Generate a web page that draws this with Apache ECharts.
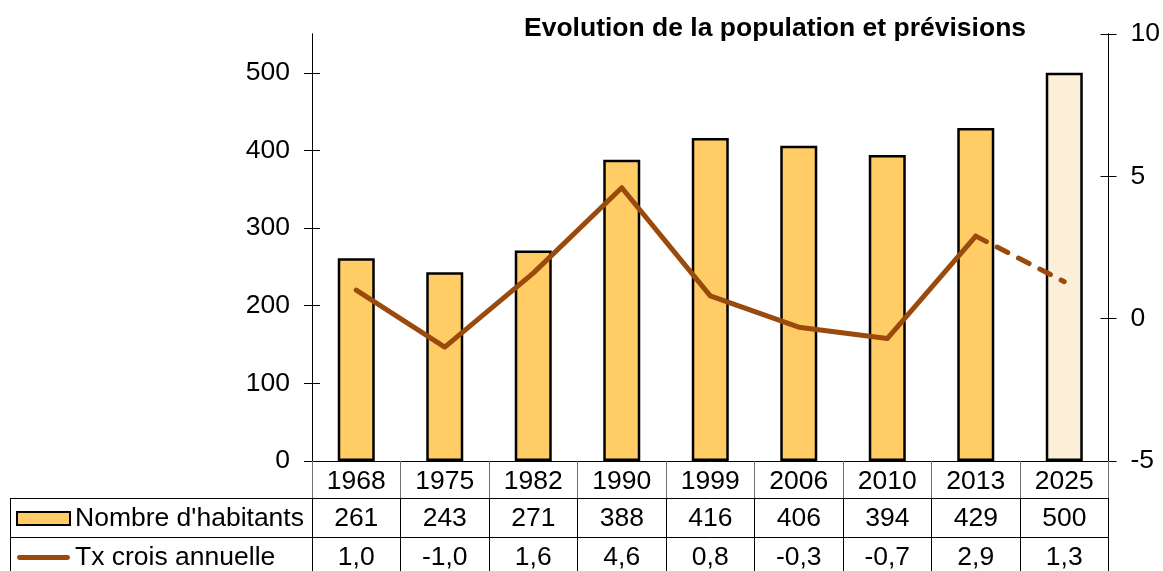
<!DOCTYPE html>
<html><head><meta charset="utf-8">
<script src="https://cdn.jsdelivr.net/npm/echarts@6/dist/echarts.min.js"></script>
<style>html,body{margin:0;padding:0;background:#fff}#c{width:1163px;height:571px}</style>
</head><body><div id="c"></div>
<script>
const years = ['1968','1975','1982','1990','1999','2006','2010','2013','2025'];
const habitants = [261,243,271,388,416,406,394,429,500];
const taux = [1.0,-1.0,1.6,4.6,0.8,-0.3,-0.7,2.9,1.3];
const leftTicks = [0,100,200,300,400,500];
const rightTicks = [-5,0,5,10];
const chartTitle = 'Evolution de la population et prévisions';
const seriesNames = ["Nombre d'habitants", 'Tx crois annuelle'];
const forecastIndex = 8;

const FONT = 'Liberation Sans, Arial, sans-serif';
const FS = 26.5;
const BAR = '#FFCC66', BAR_FC = '#FBEFD8', LINE = '#9A4A0C';
const fmt = v => v.toFixed(1).replace('.', ',');

const chart = echarts.init(document.getElementById('c'));
const G = {left:312, right:52, top:34, bottom:110};
const tableAxis = (data, offset, tickLen, tickColor) => ({
  type:'category', data: data, position:'bottom', offset: offset, gridIndex:0,
  axisLine:{show:true, onZero:false, lineStyle:{color:'#000', width:1}},
  axisTick:{show:true, length:tickLen, lineStyle:{color:tickColor, width:1}},
  axisLabel:{fontFamily:FONT, fontSize:FS, color:'#000', margin:7, interval:0},
  splitLine:{show:false}
});
const valAxis = (pos, min, max, interval, ticks, showLabel, inside) => ({
  type:'value', position:pos, min:min, max:max, interval:interval,
  axisLine:{show:true, lineStyle:{color:'#000', width:1}},
  axisTick:{show:true, inside:inside, length:8, customValues:ticks, lineStyle:{color:'#000'}},
  axisLabel:{show:showLabel, customValues:ticks, fontFamily:FONT, fontSize:FS, color:'#000', margin:22},
  splitLine:{show:false}
});

chart.setOption({
  animation:false,
  backgroundColor:'#fff',
  title:{text:chartTitle, left:524, top:15, padding:0,
    textStyle:{fontFamily:FONT, fontSize:FS, fontWeight:'bold', color:'#000'}},
  grid:G,
  legend:{orient:'vertical', left:16, top:505, padding:0, itemWidth:53, itemHeight:13, itemGap:12,
    symbolKeepAspect:true,
    data:[{name:seriesNames[0], icon:'rect'},
          {name:seriesNames[1], icon:'path://M2.5,0 L52.5,0 A2.5,2.5 0 0 1 52.5,5 L2.5,5 A2.5,2.5 0 0 1 2.5,0 Z',
           itemStyle:{color:LINE, borderWidth:0}}],
    textStyle:{fontFamily:FONT, fontSize:FS, color:'#000', lineHeight:26}},
  xAxis:[
    tableAxis(years, 0, 37, '#707070'),
    tableAxis(habitants.map(String), 37, 39, '#000'),
    tableAxis(taux.map(fmt), 76, 40, '#000')
  ],
  yAxis:[
    valAxis('left', 0, 550, 100, leftTicks, true, false),
    valAxis('right', -5, 10, 5, rightTicks, true, false),
    valAxis('left', 0, 550, 100, leftTicks, false, true),
    valAxis('right', -5, 10, 5, rightTicks, false, true)
  ],
  series:[
    {name:seriesNames[0], type:'bar', xAxisIndex:0, yAxisIndex:0, barWidth:37,
     itemStyle:{color:BAR, borderColor:'#000', borderWidth:2.5},
     data: habitants.map((v,i)=> i>=forecastIndex ? {value:v, itemStyle:{color:BAR_FC}} : v)},
    {name:seriesNames[1], type:'line', xAxisIndex:0, yAxisIndex:1, symbol:'none', showSymbol:false,
     lineStyle:{color:LINE, width:5, cap:'round', join:'round'}, itemStyle:{color:LINE},
     data: taux.map((v,i)=> i<forecastIndex ? v : '-')},
    {name:'prevision', type:'line', xAxisIndex:0, yAxisIndex:1, symbol:'none', showSymbol:false,
     lineStyle:{color:LINE, width:5, type:[12,12], cap:'round'},
     data: taux.map((v,i)=> i>=forecastIndex-1 ? v : '-')},
    {type:'bar', xAxisIndex:1, yAxisIndex:0, data:[], silent:true},
    {type:'bar', xAxisIndex:2, yAxisIndex:0, data:[], silent:true}
  ],
  graphic:[
    {type:'line', shape:{x1:10, y1:498.5, x2:312, y2:498.5}, style:{stroke:'#000', lineWidth:1}},
    {type:'line', shape:{x1:10, y1:537.5, x2:312, y2:537.5}, style:{stroke:'#000', lineWidth:1}},
    {type:'line', shape:{x1:10.5, y1:498, x2:10.5, y2:571}, style:{stroke:'#000', lineWidth:1}}
  ]
});
</script></body></html>
